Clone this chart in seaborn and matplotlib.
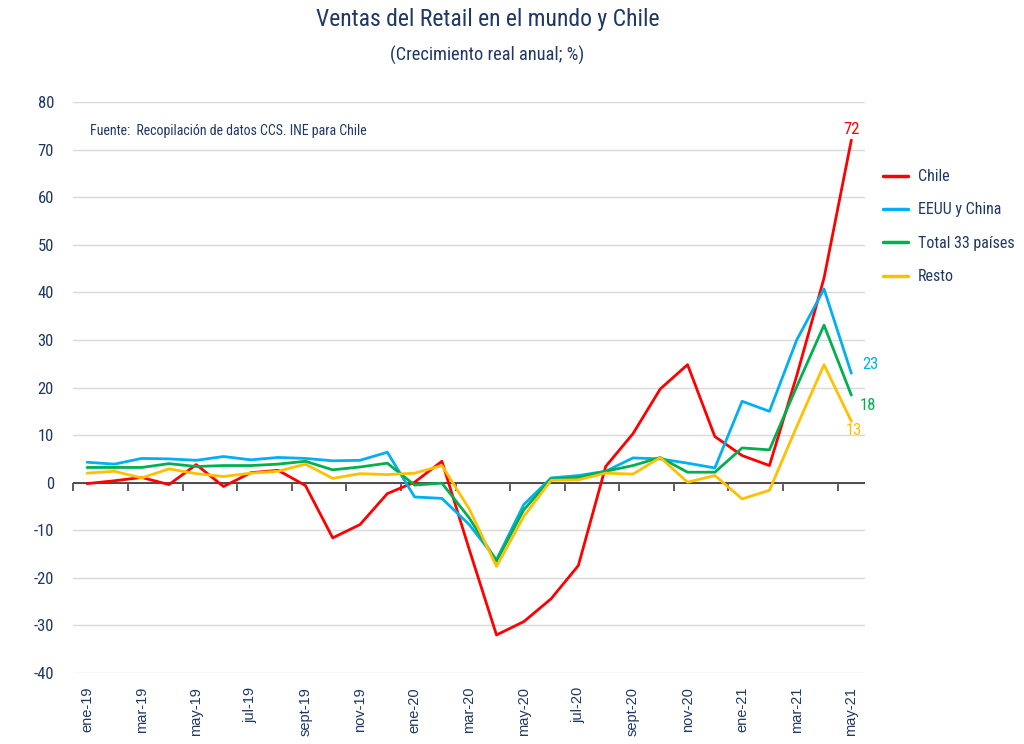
import numpy as np
import pandas as pd
import seaborn as sns
import matplotlib.pyplot as plt
from matplotlib import font_manager

sns.set_theme(style="white")

# buscar una fuente angosta instalada
nombres = {f.name for f in font_manager.fontManager.ttflist}
fuente = 'DejaVu Sans'
estirar = 'normal'
for c in ['Liberation Sans Narrow', 'Roboto Condensed', 'Open Sans Condensed', 'DejaVu Sans Condensed']:
    if c in nombres:
        fuente = c
        break
else:
    if any(f.name == 'DejaVu Sans' and f.stretch == 'condensed' for f in font_manager.fontManager.ttflist):
        estirar = 'condensed'
plt.rcParams['font.family'] = [fuente, 'DejaVu Sans']
plt.rcParams['font.stretch'] = estirar
plt.rcParams['axes.unicode_minus'] = False

meses = ["ene-19", "feb-19", "mar-19", "abr-19", "may-19", "jun-19", "jul-19", "ago-19",
         "sept-19", "oct-19", "nov-19", "dic-19", "ene-20", "feb-20", "mar-20", "abr-20",
         "may-20", "jun-20", "jul-20", "ago-20", "sept-20", "oct-20", "nov-20", "dic-20",
         "ene-21", "feb-21", "mar-21", "abr-21", "may-21"]
chile = [-0.2, 0.4, 1.1, -0.4, 3.8, -0.8, 2.1, 2.6, -0.6, -11.6, -8.8, -2.3, 0.1, 4.5,
         -14.0, -32.0, -29.2, -24.4, -17.4, 3.4, 10.3, 19.7, 24.8, 9.7, 5.7, 3.6, 22.5, 43.0, 72.0]
eeuu_china = [4.3, 3.9, 5.1, 5.0, 4.7, 5.5, 4.8, 5.3, 5.1, 4.6, 4.7, 6.4, -3.0, -3.3,
              -8.8, -16.2, -4.6, 1.0, 1.5, 2.4, 5.2, 5.0, 4.1, 3.1, 17.1, 15.0, 30.0, 40.7, 23.0]
total33 = [3.2, 3.2, 3.2, 4.0, 3.4, 3.6, 3.6, 3.9, 4.5, 2.7, 3.3, 4.1, -0.5, -0.1,
           -7.4, -16.5, -5.7, 0.8, 1.1, 2.4, 3.6, 5.3, 2.2, 2.2, 7.3, 6.9, 20.2, 33.1, 18.4]
resto = [2.0, 2.4, 1.0, 2.9, 1.9, 1.3, 2.0, 2.4, 3.9, 0.9, 1.9, 1.7, 2.0, 3.6,
         -5.5, -17.6, -7.1, 0.5, 0.6, 2.0, 1.8, 5.3, 0.1, 1.5, -3.4, -1.6, 11.8, 24.8, 12.9]
series = ["Chile", "EEUU y China", "Total 33 países", "Resto"]
colores = ["#FF0000", "#00B0F0", "#00B050", "#FFC000"]

n = len(meses)
df = pd.DataFrame({
    "idx": np.tile(np.arange(n), 4),
    "valor": chile + eeuu_china + total33 + resto,
    "serie": np.repeat(series, n),
})

azul = "#1F3864"
fig = plt.figure(figsize=(10.24, 7.44), dpi=100)
ax = fig.add_axes([0.0717, 0.0954, 0.773, 0.7675])

sns.lineplot(data=df, x="idx", y="valor", hue="serie", hue_order=series,
             palette=colores, linewidth=2.0, ax=ax)

ax.set_xlim(-0.5, n - 0.5)
ax.set_ylim(-40, 80)
ax.set_yticks(np.arange(-40, 81, 10))
ax.grid(axis='y', color='#D9D9D9', linewidth=1)
ax.set_axisbelow(True)
for s in ax.spines.values():
    s.set_visible(False)
ax.axhline(0, color='#404040', linewidth=1.3, zorder=1)

# etiquetas del eje x
ax.set_xticks(np.arange(0, n, 2))
ax.set_xticklabels(meses[::2], rotation=90, fontsize=10.5, color=azul,
                   family=['Liberation Sans', 'DejaVu Sans'], stretch='normal')
ax.tick_params(axis='x', length=0, pad=10)
ax.tick_params(axis='y', length=0, labelsize=12, labelcolor=azul, pad=14)
ax.set_xlabel("")
ax.set_ylabel("")

# marcas en la linea del cero
sec = ax.secondary_xaxis(1 / 3)
sec.set_xticks(np.arange(-0.5, n, 2))
sec.set_xticklabels([])
sec.tick_params(axis='x', direction='out', length=6, width=1.2, color='#404040')
sec.spines['bottom'].set_visible(False)

# valores finales
ax.text(n - 1, chile[-1] + 2.2, f"{chile[-1]:.0f}", color=colores[0], fontsize=12, ha='center', va='center')
ax.text(n - 0.6, eeuu_china[-1] + 1.8, f"{eeuu_china[-1]:.0f}", color=colores[1], fontsize=12, ha='left', va='center')
ax.text(n - 0.7, total33[-1] - 2.2, f"{total33[-1]:.0f}", color=colores[2], fontsize=12, ha='left', va='center')
ax.text(n - 0.9, resto[-1] - 2.0, f"{resto[-1]:.0f}", color=colores[3], fontsize=12, ha='center', va='center')

ax.text(0.021, 0.95, "Fuente:  Recopilación de datos CCS. INE para Chile", transform=ax.transAxes,
        fontsize=10, color=azul, ha='left', va='center')

leg = ax.legend(loc='upper left', bbox_to_anchor=(0.848, 0.792), bbox_transform=fig.transFigure,
                frameon=False, fontsize=11.5, handlelength=1.6, labelspacing=1.15, handletextpad=0.6)
for t in leg.get_texts():
    t.set_color(azul)
for l in leg.get_lines():
    l.set_linewidth(2.5)

fig.text(0.476, 0.974, "Ventas del Retail en el mundo y Chile", ha='center', va='center',
         fontsize=17, color=azul)
fig.text(0.476, 0.925, "(Crecimiento real anual; %)", ha='center', va='center',
         fontsize=13.2, color=azul)

fig.savefig("out.png", dpi=100)
